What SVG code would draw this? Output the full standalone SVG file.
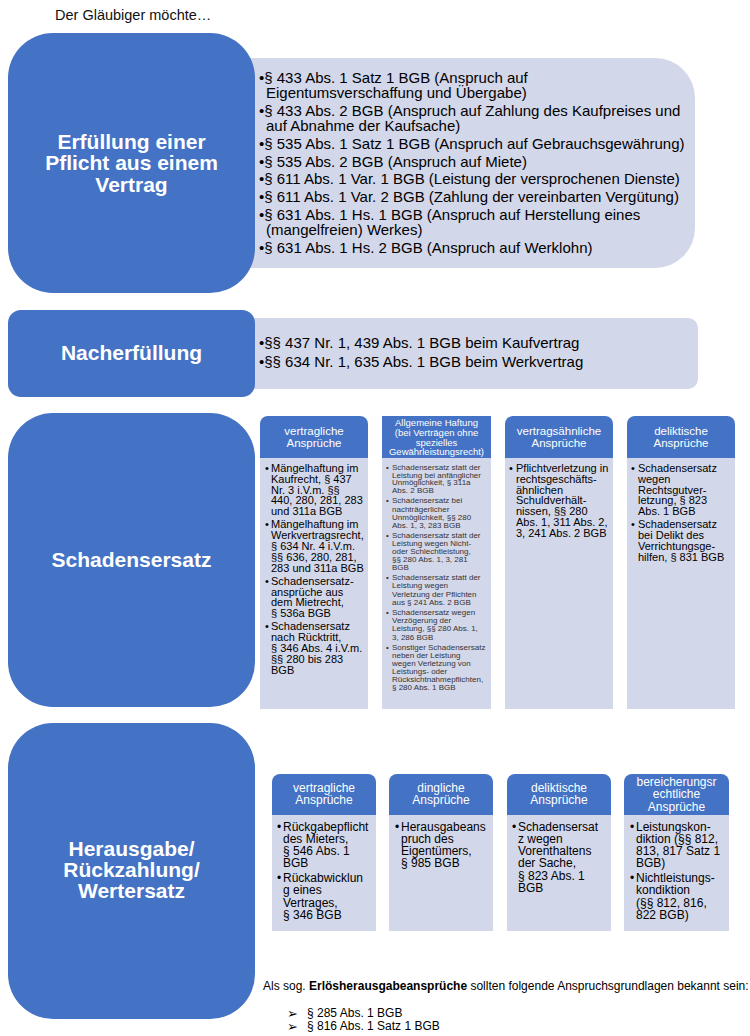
<svg xmlns="http://www.w3.org/2000/svg" width="750" height="1036" viewBox="0 0 750 1036">
<style>
text{font-family:"Liberation Sans",Arial,sans-serif;}
.blue{fill:#4472C4;}
.light{fill:#D3D7EA;}
.bt{fill:#fff;font-weight:bold;font-size:21px;text-anchor:middle;}
.l15{fill:#000;font-size:15px;}
.hd{fill:#fff;font-size:11.5px;text-anchor:middle;}
.hd4{fill:#fff;font-size:12px;text-anchor:middle;}
.hds{fill:#fff;font-size:9.5px;text-anchor:middle;}
.b11{fill:#000;font-size:11px;}
.b8{fill:#333;font-size:8px;}
.b12{fill:#000;font-size:12px;}
.arr{font-family:"DejaVu Sans",sans-serif;font-size:13px;fill:#000;}
</style>
<rect width="750" height="1036" fill="#fff"/>
<text x="55" y="20" style="font-size:14.5px;fill:#111">Der Gläubiger möchte…</text>

<g id="s1-list">
<path class="light" d="M230,58 H655 A40,40 0 0 1 695,98 V228 A40,40 0 0 1 655,268 H230 Z"/>
<text class="l15" x="259" y="83">•§ 433 Abs. 1 Satz 1 BGB (Anspruch auf</text>
<text class="l15" x="266" y="98">Eigentumsverschaffung und Übergabe)</text>
<text class="l15" x="259" y="116">•§ 433 Abs. 2 BGB (Anspruch auf Zahlung des Kaufpreises und</text>
<text class="l15" x="266" y="131">auf Abnahme der Kaufsache)</text>
<text class="l15" x="259" y="149">•§ 535 Abs. 1 Satz 1 BGB (Anspruch auf Gebrauchsgewährung)</text>
<text class="l15" x="259" y="167">•§ 535 Abs. 2 BGB (Anspruch auf Miete)</text>
<text class="l15" x="259" y="184">•§ 611 Abs. 1 Var. 1 BGB (Leistung der versprochenen Dienste)</text>
<text class="l15" x="259" y="202">•§ 611 Abs. 1 Var. 2 BGB (Zahlung der vereinbarten Vergütung)</text>
<text class="l15" x="259" y="220">•§ 631 Abs. 1 Hs. 1 BGB (Anspruch auf Herstellung eines</text>
<text class="l15" x="266" y="235">(mangelfreien) Werkes)</text>
<text class="l15" x="259" y="253">•§ 631 Abs. 1 Hs. 2 BGB (Anspruch auf Werklohn)</text>
</g>
<g id="s1">
<rect class="blue" x="8" y="33" width="247" height="260" rx="45"/>
<text class="bt" x="131.5" y="149">Erfüllung einer</text>
<text class="bt" x="131.5" y="170">Pflicht aus einem</text>
<text class="bt" x="131.5" y="192">Vertrag</text>
</g>

<g id="s2-list">
<path class="light" d="M230,318 H688 A10,10 0 0 1 698,328 V379 A10,10 0 0 1 688,389 H230 Z"/>
<text class="l15" x="259" y="348">•§§ 437 Nr. 1, 439 Abs. 1 BGB beim Kaufvertrag</text>
<text class="l15" x="259" y="367">•§§ 634 Nr. 1, 635 Abs. 1 BGB beim Werkvertrag</text>
</g>
<g id="s2">
<rect class="blue" x="8" y="310" width="247" height="87" rx="13"/>
<text class="bt" x="131.5" y="360">Nacherfüllung</text>
</g>

<g id="s3">
<rect class="blue" x="8" y="413" width="247" height="294" rx="45"/>
<text class="bt" x="131.5" y="567">Schadensersatz</text>
</g>

<g id="s3-c1">
<rect class="light" x="260" y="450" width="108" height="259"/>
<path class="blue" d="M260,458 V424 A8,8 0 0 1 268,416 H360 A8,8 0 0 1 368,424 V458 Z"/>
<text class="hd" x="314" y="435">vertragliche</text>
<text class="hd" x="314" y="447">Ansprüche</text>
<text class="b11" x="265" y="472">•</text>
<text class="b11" x="271" y="472">Mängelhaftung im</text>
<text class="b11" x="271" y="482.8">Kaufrecht, § 437</text>
<text class="b11" x="271" y="493.6">Nr. 3 i.V.m. §§</text>
<text class="b11" x="271" y="504.4">440, 280, 281, 283</text>
<text class="b11" x="271" y="515.2">und 311a BGB</text>
<text class="b11" x="265" y="528.4">•</text>
<text class="b11" x="271" y="528.4">Mängelhaftung im</text>
<text class="b11" x="271" y="539.2">Werkvertragsrecht,</text>
<text class="b11" x="271" y="550">§ 634 Nr. 4 i.V.m.</text>
<text class="b11" x="271" y="560.8">§§ 636, 280, 281,</text>
<text class="b11" x="271" y="571.6">283 und 311a BGB</text>
<text class="b11" x="265" y="584.8">•</text>
<text class="b11" x="271" y="584.8">Schadensersatz-</text>
<text class="b11" x="271" y="595.6">ansprüche aus</text>
<text class="b11" x="271" y="606.4">dem Mietrecht,</text>
<text class="b11" x="271" y="617.2">§ 536a BGB</text>
<text class="b11" x="265" y="630.4">•</text>
<text class="b11" x="271" y="630.4">Schadensersatz</text>
<text class="b11" x="271" y="641.2">nach Rücktritt,</text>
<text class="b11" x="271" y="652">§ 346 Abs. 4 i.V.m.</text>
<text class="b11" x="271" y="662.8">§§ 280 bis 283</text>
<text class="b11" x="271" y="673.6">BGB</text>
</g>

<g id="s3-c2">
<rect class="light" x="382" y="450" width="109" height="259"/>
<rect class="blue" x="382" y="416" width="109" height="42"/>
<text class="hds" x="436.5" y="426">Allgemeine Haftung</text>
<text class="hds" x="436.5" y="436">(bei Verträgen ohne</text>
<text class="hds" x="436.5" y="445.5">spezielles</text>
<text class="hds" x="436.5" y="455">Gewährleistungsrecht)</text>
<text class="b8" x="386" y="470">•</text>
<text class="b8" x="392" y="470">Schadensersatz statt der</text>
<text class="b8" x="392" y="477.5">Leistung bei anfänglicher</text>
<text class="b8" x="392" y="485">Unmöglichkeit, § 311a</text>
<text class="b8" x="392" y="493">Abs. 2 BGB</text>
<text class="b8" x="386" y="503">•</text>
<text class="b8" x="392" y="503">Schadensersatz bei</text>
<text class="b8" x="392" y="511.5">nachträgerlicher</text>
<text class="b8" x="392" y="520">Unmöglichkeit, §§ 280</text>
<text class="b8" x="392" y="528">Abs. 1, 3, 283 BGB</text>
<text class="b8" x="386" y="538.3">•</text>
<text class="b8" x="392" y="538.3">Schadensersatz statt der</text>
<text class="b8" x="392" y="546.3">Leistung wegen Nicht-</text>
<text class="b8" x="392" y="554.3">oder Schlechtleistung,</text>
<text class="b8" x="392" y="562.3">§§ 280 Abs. 1, 3, 281</text>
<text class="b8" x="392" y="570.3">BGB</text>
<text class="b8" x="386" y="580.3">•</text>
<text class="b8" x="392" y="580.3">Schadensersatz statt der</text>
<text class="b8" x="392" y="588.3">Leistung wegen</text>
<text class="b8" x="392" y="597">Verletzung der Pflichten</text>
<text class="b8" x="392" y="605">aus § 241 Abs. 2 BGB</text>
<text class="b8" x="386" y="615">•</text>
<text class="b8" x="392" y="615">Schadensersatz wegen</text>
<text class="b8" x="392" y="623">Verzögerung der</text>
<text class="b8" x="392" y="631">Leistung, §§ 280 Abs. 1,</text>
<text class="b8" x="392" y="639.7">3, 286 BGB</text>
<text class="b8" x="386" y="649.7">•</text>
<text class="b8" x="392" y="649.7">Sonstiger Schadensersatz</text>
<text class="b8" x="392" y="657.7">neben der Leistung</text>
<text class="b8" x="392" y="665.7">wegen Verletzung von</text>
<text class="b8" x="392" y="674.3">Leistungs- oder</text>
<text class="b8" x="392" y="682.3">Rücksichtnahmepflichten,</text>
<text class="b8" x="392" y="690.3">§ 280 Abs. 1 BGB</text>
</g>

<g id="s3-c3">
<rect class="light" x="505" y="450" width="108" height="259"/>
<path class="blue" d="M505,458 V424 A8,8 0 0 1 513,416 H605 A8,8 0 0 1 613,424 V458 Z"/>
<text class="hd" x="559" y="435">vertragsähnliche</text>
<text class="hd" x="559" y="447">Ansprüche</text>
<text class="b11" x="509" y="472">•</text>
<text class="b11" x="516" y="472">Pflichtverletzung in</text>
<text class="b11" x="516" y="482.8">rechtsgeschäfts-</text>
<text class="b11" x="516" y="493.6">ähnlichen</text>
<text class="b11" x="516" y="504.4">Schuldverhält-</text>
<text class="b11" x="516" y="515.2">nissen, §§ 280</text>
<text class="b11" x="516" y="526">Abs. 1, 311 Abs. 2,</text>
<text class="b11" x="516" y="536.8">3, 241 Abs. 2 BGB</text>
</g>

<g id="s3-c4">
<rect class="light" x="627" y="450" width="108" height="259"/>
<path class="blue" d="M627,458 V424 A8,8 0 0 1 635,416 H727 A8,8 0 0 1 735,424 V458 Z"/>
<text class="hd" x="681" y="435">deliktische</text>
<text class="hd" x="681" y="447">Ansprüche</text>
<text class="b11" x="631" y="472">•</text>
<text class="b11" x="638" y="472">Schadensersatz</text>
<text class="b11" x="638" y="482.8">wegen</text>
<text class="b11" x="638" y="493.6">Rechtsgutver-</text>
<text class="b11" x="638" y="504.4">letzung, § 823</text>
<text class="b11" x="638" y="515.2">Abs. 1 BGB</text>
<text class="b11" x="631" y="528.4">•</text>
<text class="b11" x="638" y="528.4">Schadensersatz</text>
<text class="b11" x="638" y="539.2">bei Delikt des</text>
<text class="b11" x="638" y="550">Verrichtungsge-</text>
<text class="b11" x="638" y="560.8">hilfen, § 831 BGB</text>
</g>

<g id="s4">
<rect class="blue" x="8" y="723" width="247" height="296" rx="45"/>
<text class="bt" x="131.5" y="856">Herausgabe/</text>
<text class="bt" x="131.5" y="877">Rückzahlung/</text>
<text class="bt" x="131.5" y="898">Wertersatz</text>
</g>

<g id="s4-c1">
<rect class="light" x="272" y="808" width="104" height="123"/>
<path class="blue" d="M272,815 V782 A8,8 0 0 1 280,774 H368 A8,8 0 0 1 376,782 V815 Z"/>
<text class="hd4" x="324" y="792">vertragliche</text>
<text class="hd4" x="324" y="804">Ansprüche</text>
<text class="b12" x="277" y="830.5">•</text>
<text class="b12" x="283" y="830.5">Rückgabepflicht</text>
<text class="b12" x="283" y="842.8">des Mieters,</text>
<text class="b12" x="283" y="855.1">§ 546 Abs. 1</text>
<text class="b12" x="283" y="867.4">BGB</text>
<text class="b12" x="277" y="882.1">•</text>
<text class="b12" x="283" y="882.1">Rückabwicklun</text>
<text class="b12" x="283" y="894.4">g eines</text>
<text class="b12" x="283" y="906.7">Vertrages,</text>
<text class="b12" x="283" y="919">§ 346 BGB</text>
</g>

<g id="s4-c2">
<rect class="light" x="389" y="808" width="104" height="123"/>
<path class="blue" d="M389,815 V782 A8,8 0 0 1 397,774 H485 A8,8 0 0 1 493,782 V815 Z"/>
<text class="hd4" x="441" y="792">dingliche</text>
<text class="hd4" x="441" y="804">Ansprüche</text>
<text class="b12" x="395" y="830.5">•</text>
<text class="b12" x="401" y="830.5">Herausgabeans</text>
<text class="b12" x="401" y="842.8">pruch des</text>
<text class="b12" x="401" y="855.1">Eigentümers,</text>
<text class="b12" x="401" y="867.4">§ 985 BGB</text>
</g>

<g id="s4-c3">
<rect class="light" x="507" y="808" width="104" height="123"/>
<path class="blue" d="M507,815 V782 A8,8 0 0 1 515,774 H603 A8,8 0 0 1 611,782 V815 Z"/>
<text class="hd4" x="559" y="792">deliktische</text>
<text class="hd4" x="559" y="804">Ansprüche</text>
<text class="b12" x="512" y="830.5">•</text>
<text class="b12" x="518" y="830.5">Schadensersat</text>
<text class="b12" x="518" y="842.8">z wegen</text>
<text class="b12" x="518" y="855.1">Vorenthaltens</text>
<text class="b12" x="518" y="867.4">der Sache,</text>
<text class="b12" x="518" y="879.7">§ 823 Abs. 1</text>
<text class="b12" x="518" y="892">BGB</text>
</g>

<g id="s4-c4">
<rect class="light" x="624" y="808" width="105" height="123"/>
<path class="blue" d="M624,815 V782 A8,8 0 0 1 632,774 H721 A8,8 0 0 1 729,782 V815 Z"/>
<text class="hd4" x="676.5" y="786">bereicherungsr</text>
<text class="hd4" x="676.5" y="798">echtliche</text>
<text class="hd4" x="676.5" y="811">Ansprüche</text>
<text class="b12" x="630" y="830.5">•</text>
<text class="b12" x="636" y="830.5">Leistungskon-</text>
<text class="b12" x="636" y="842.8">diktion (§§ 812,</text>
<text class="b12" x="636" y="855.1">813, 817 Satz 1</text>
<text class="b12" x="636" y="867.4">BGB)</text>
<text class="b12" x="630" y="882.1">•</text>
<text class="b12" x="636" y="882.1">Nichtleistungs-</text>
<text class="b12" x="636" y="894.4">kondiktion</text>
<text class="b12" x="636" y="906.7">(§§ 812, 816,</text>
<text class="b12" x="636" y="919">822 BGB)</text>
</g>

<g id="note">
<text class="b12" x="263" y="990">Als sog. <tspan font-weight="bold">Erlösherausgabeansprüche</tspan> sollten folgende Anspruchsgrundlagen bekannt sein:</text>
<text class="arr" x="287" y="1018">➢</text>
<text class="b12" x="307" y="1017">§ 285 Abs. 1 BGB</text>
<text class="arr" x="287" y="1031">➢</text>
<text class="b12" x="307" y="1030">§ 816 Abs. 1 Satz 1 BGB</text>
</g>
<g id="connectors"></g>
</svg>
